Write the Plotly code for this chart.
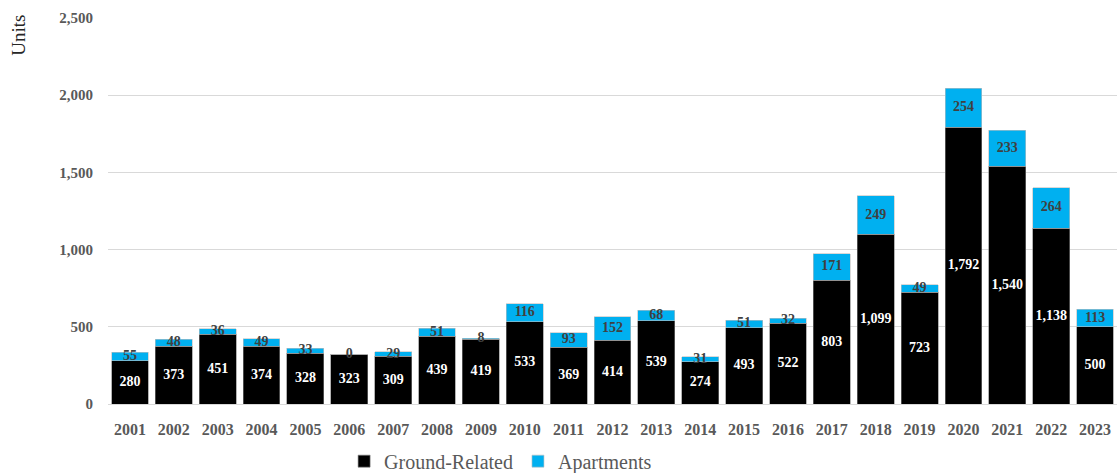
import plotly.graph_objects as go

# Housing completions by year, split by dwelling type
years = [str(y) for y in range(2001, 2024)]
ground_related = [280, 373, 451, 374, 328, 323, 309, 439, 419, 533, 369, 414,
                  539, 274, 493, 522, 803, 1099, 723, 1792, 1540, 1138, 500]
apartments = [55, 48, 36, 49, 33, 0, 29, 51, 8, 116, 93, 152,
              68, 31, 51, 32, 171, 249, 49, 254, 233, 264, 113]

y_ticks = [0, 500, 1000, 1500, 2000, 2500]

FONT = "Liberation Serif"
BLACK = "#000000"
BLUE = "#00B0F0"
GREY_TEXT = "#595959"

fig = go.Figure()

fig.add_trace(go.Bar(
    x=years, y=ground_related, name="Ground-Related",
    marker=dict(color=BLACK, line=dict(color="#7f7f7f", width=0.6)),
))
fig.add_trace(go.Bar(
    x=years, y=apartments, name="Apartments",
    marker=dict(color=BLUE, line=dict(color="#bfbfbf", width=0.6)),
))

# Value labels centred in each segment
fig.add_trace(go.Scatter(
    x=years, y=[g / 2 for g in ground_related],
    mode="text", text=[f"{g:,}" for g in ground_related],
    textfont=dict(family=FONT, size=14, color="white", weight="bold"),
    showlegend=False, hoverinfo="skip",
))
fig.add_trace(go.Scatter(
    x=years, y=[g + a / 2 for g, a in zip(ground_related, apartments)],
    mode="text", text=[f"{a:,}" for a in apartments],
    textfont=dict(family=FONT, size=14, color="#404040", weight="bold"),
    showlegend=False, hoverinfo="skip",
))

fig.add_annotation(
    text="Units", textangle=-90, xref="paper", yref="paper",
    x=-0.089, y=1.013, xanchor="center", yanchor="top", showarrow=False,
    font=dict(family=FONT, size=19, color="#262626"),
)

fig.update_layout(
    width=1119, height=473,
    margin=dict(l=108, r=2, t=18, b=69, autoexpand=False),
    barmode="stack", bargap=0.16,
    plot_bgcolor="white", paper_bgcolor="white",
    font=dict(family=FONT, color=GREY_TEXT),
    xaxis=dict(
        type="category", range=[-0.5, len(years) - 0.5],
        showgrid=False, showline=False, ticks="", automargin=False,
        tickfont=dict(family=FONT, size=16, color=GREY_TEXT, weight="bold"),
        ticklabelstandoff=14,
    ),
    yaxis=dict(
        range=[0, 2500], tickvals=y_ticks, tickformat=",", automargin=False,
        showgrid=True, gridcolor="#d9d9d9", gridwidth=1,
        zeroline=True, zerolinecolor="#d9d9d9", zerolinewidth=1,
        tickfont=dict(family=FONT, size=15, color=GREY_TEXT, weight="bold"),
        ticklabelstandoff=14,
    ),
    legend=dict(
        orientation="h", x=0.234, y=-0.148, xanchor="left", yanchor="middle",
        font=dict(family=FONT, size=20, color=GREY_TEXT),
        itemwidth=30, traceorder="normal",
    ),
    showlegend=True,
)

fig.write_html("out.html")
